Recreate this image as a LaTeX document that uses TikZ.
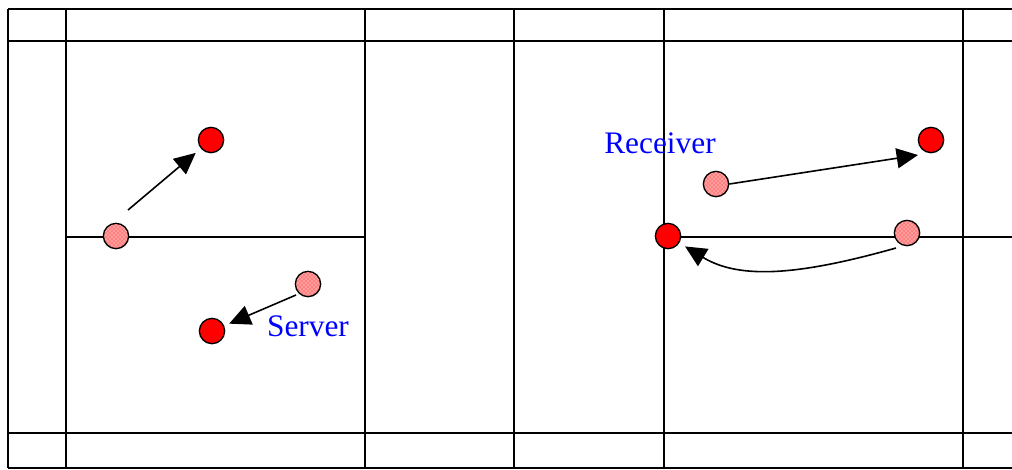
\documentclass[tikz,border=0pt]{standalone}
\usepackage{fontspec}
\setmainfont{Liberation Serif}
\usetikzlibrary{arrows.meta,patterns}

\tikzset{
  grid/.style={line width=1.4pt},
  newpos/.style={circle,draw,line width=1pt,fill=red,minimum size=19pt,inner sep=0pt},
  oldpos/.style={circle,draw,line width=1pt,minimum size=19pt,inner sep=0pt,
    preaction={fill=red!50!white},pattern=crosshatch dots,pattern color=white},
  move/.style={line width=1.2pt,-{Triangle[length=16pt,width=15pt]}},
  lab/.style={text=blue,font=\fontsize{23.5}{28}\selectfont,inner sep=0pt}
}

\begin{document}
\begin{tikzpicture}[x=0.75pt,y=-0.75pt]
\useasboundingbox (0,0) rectangle (1012,469);
% table lines
\draw[grid] (8,9)--(1012,9);
\draw[grid] (8,41)--(1012,41);
\draw[grid] (8,433)--(1012,433);
\draw[grid] (8,468)--(1012,468);
\foreach \x in {8,66,365,664,963}
  \draw[grid] (\x,9)--(\x,468);
\draw[line width=2.2pt] (514,9)--(514,468);
\draw[grid] (66,237)--(365,237);
\draw[grid] (664,237)--(1012,237);

% left half
\node[oldpos] (srcA) at (116,236) {};
\node[newpos] (dstA) at (211,140) {};
\node[oldpos] (srcB) at (308,284) {};
\node[newpos] (dstB) at (212,331) {};
\coordinate (tailA) at (128,210);
\coordinate (tailB) at (296,295);
\draw[move,shorten >=5pt] (tailA) -- (dstA);
\draw[move,shorten >=4pt] (tailB) -- (dstB);
\node[lab] (server) at (308,326) {Server};

% right half
\node[lab] (receiver) at (660,143) {Receiver};
\node[oldpos] (srcC) at (716,184) {};
\node[newpos] (dstC) at (931,140) {};
\node[newpos] (dstD) at (668,236) {};
\node[oldpos] (srcD) at (907,233) {};
\coordinate (tipC) at (918,155);
\draw[move] (srcC.east) -- (tipC);
\coordinate (tailD) at (896,248);
\draw[move,shorten >=5pt] (tailD) .. controls (800,275) and (740,280) .. (dstD);
\end{tikzpicture}
\end{document}
